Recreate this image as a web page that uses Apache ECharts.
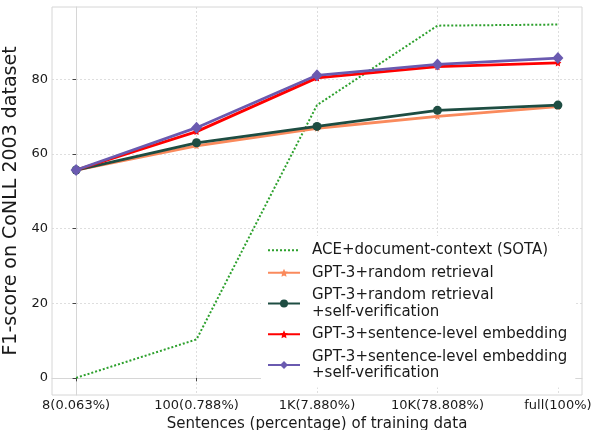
<!DOCTYPE html>
<html>
<head>
<meta charset="utf-8">
<script src="https://cdn.jsdelivr.net/npm/echarts@6/dist/echarts.min.js"></script>
<style>
html,body{margin:0;padding:0;background:#fff;}
#chart{width:593px;height:430px;}
</style>
</head>
<body>
<div id="chart"></div>
<script>
const categories = ['8(0.063%)', '100(0.788%)', '1K(7.880%)', '10K(78.808%)', 'full(100%)'];
const yTicks = [0, 20, 40, 60, 80];
const aceSota = [0, 10.3, 73.1, 94.4, 94.7];
const gptRandom = [55.7, 62.2, 66.9, 70.1, 72.7];
const gptRandomSV = [55.7, 63.0, 67.4, 71.7, 73.1];
const gptSentence = [55.7, 66.0, 80.4, 83.4, 84.4];
const gptSentenceSV = [55.7, 67.05, 81.1, 84.0, 85.7];

const seriesNames = [
  'ACE+document-context (SOTA)',
  'GPT-3+random retrieval',
  'GPT-3+random retrieval\n+self-verification',
  'GPT-3+sentence-level embedding',
  'GPT-3+sentence-level embedding\n+self-verification'
];

const pts = arr => arr.map((v, i) => [i, v]);
const xIdx = categories.map((c, i) => i);
const font = 'DejaVu Sans';
const gridColor = '#d6d6d6';
const starPath = 'path://M0,-1 L0.29,-0.4 L0.95,-0.31 L0.47,0.15 L0.59,0.81 L0,0.5 L-0.59,0.81 L-0.47,0.15 L-0.95,-0.31 L-0.29,-0.4 Z';

const chart = echarts.init(document.getElementById('chart'), null, {renderer: 'canvas'});
chart.setOption({
  animation: false,
  backgroundColor: '#fff',
  textStyle: {fontFamily: font},
  grid: {left: 52, top: 7, width: 530, height: 388, show: true, borderColor: gridColor, borderWidth: 1,
    containLabel: false, outerBoundsMode: 'none'},
  xAxis: {
    type: 'value', min: -0.2, max: 4.2,
    name: 'Sentences (percentage) of training data',
    nameLocation: 'middle', nameGap: 18,
    nameTextStyle: {fontSize: 15, color: '#1a1a1a', fontFamily: font, verticalAlign: 'top'},
    axisLine: {show: true, lineStyle: {color: gridColor, width: 1}},
    axisTick: {show: true, length: 3.5, customValues: xIdx, lineStyle: {color: '#444'}},
    axisLabel: {customValues: xIdx, margin: 4, fontSize: 13, color: '#1a1a1a', fontFamily: font,
      formatter: v => categories[Math.round(v)]},
    splitLine: {show: true, lineStyle: {color: gridColor, type: [2, 2], width: 0.8}}
  },
  yAxis: {
    type: 'value', min: -4.6, max: 99.4,
    name: 'F1-score on CoNLL 2003 dataset',
    nameLocation: 'middle', nameGap: 26, nameRotate: 90,
    nameTextStyle: {fontSize: 19, color: '#1a1a1a', fontFamily: font},
    axisLine: {show: true, lineStyle: {color: gridColor, width: 1}},
    axisTick: {show: true, length: 3.5, customValues: yTicks, lineStyle: {color: '#444'}},
    axisLabel: {customValues: yTicks, margin: 4, fontSize: 13, color: '#1a1a1a', fontFamily: font},
    splitLine: {show: true, lineStyle: {color: gridColor, type: [2, 2], width: 0.8}}
  },
  legend: {
    orient: 'vertical', left: 261, top: 236,
    backgroundColor: '#fff', padding: [6, 8, 6, 6],
    itemWidth: 32, itemHeight: 10, itemGap: 6,
    textStyle: {fontSize: 15, lineHeight: 16.5, color: '#1a1a1a', fontFamily: font, padding: [0, 0, 0, 7]},
    data: [
      {name: seriesNames[0], itemStyle: {opacity: 0}},
      seriesNames[1], seriesNames[2], seriesNames[3], seriesNames[4]
    ]
  },
  series: [
    {name: seriesNames[0], type: 'line', data: pts(aceSota), showSymbol: false, symbol: 'none',
      lineStyle: {color: '#2ca02c', width: 2, type: [2, 2]}, itemStyle: {color: '#2ca02c'}, z: 1},
    {name: seriesNames[1], type: 'line', data: pts(gptRandom), symbol: starPath, symbolSize: 7,
      lineStyle: {color: '#fa8a5c', width: 2.8}, itemStyle: {color: '#fa8a5c'}, z: 2},
    {name: seriesNames[2], type: 'line', data: pts(gptRandomSV), symbol: 'circle', symbolSize: 9,
      lineStyle: {color: '#1e4d42', width: 2.8}, itemStyle: {color: '#1e4d42'}, z: 3},
    {name: seriesNames[3], type: 'line', data: pts(gptSentence), symbol: starPath, symbolSize: 7,
      lineStyle: {color: '#ff0000', width: 2.8}, itemStyle: {color: '#ff0000'}, z: 4},
    {name: seriesNames[4], type: 'line', data: pts(gptSentenceSV), symbol: 'diamond', symbolSize: [11, 12],
      lineStyle: {color: '#6a5ab0', width: 2.8}, itemStyle: {color: '#6a5ab0'}, z: 5}
  ]
});
</script>
</body>
</html>
